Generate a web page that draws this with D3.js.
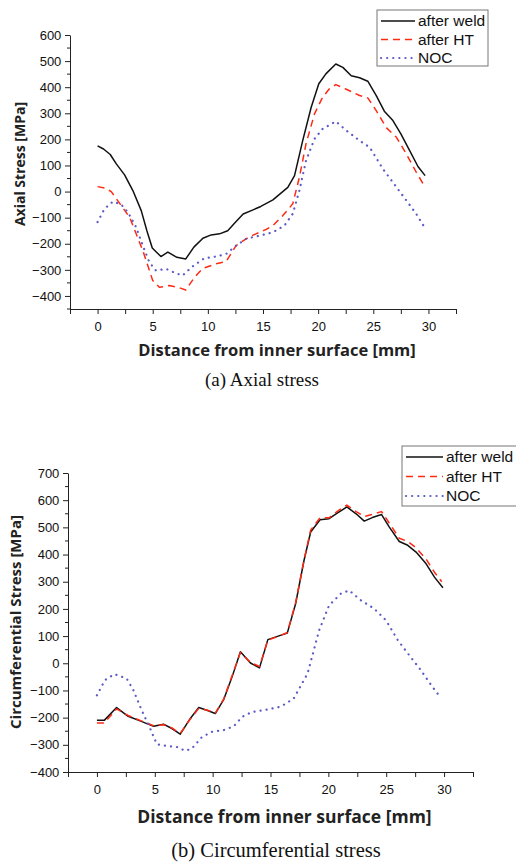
<!DOCTYPE html>
<html>
<head>
<meta charset="utf-8">
<script src="https://cdn.jsdelivr.net/npm/d3@7"></script>
<style>
  body { margin: 0; background: #fff; }
  svg { display: block; }
</style>
</head>
<body>
<svg id="chart" width="516" height="864"></svg>
<script>
// ---- data ----
const seriesNames = ["after weld", "after HT", "NOC"];

// (a) axial stress
const axialWeldX = [0, 0.54, 1.15, 1.7, 2.45, 3.2, 3.96, 4.47, 4.96, 5.74, 6.37, 7.19, 8.0, 8.73, 9.55, 10.3, 11.06, 11.8, 12.5, 13.2, 14.1, 14.8, 15.9, 17.25, 17.86, 18.6, 19.37, 20.06, 20.7, 21.6, 22.24, 23.0, 23.76, 24.5, 25.27, 26.0, 26.78, 27.5, 28.3, 29.05, 29.7];
const axialWeldY = [175, 163, 142, 106, 64, 4, -73, -150, -216, -249, -232, -252, -258, -213, -179, -166, -162, -150, -118, -86, -70, -57, -32, 16, 61, 195, 323, 413, 451, 489, 476, 444, 436, 423, 368, 308, 272, 221, 157, 96, 61];

const axialHtX = [0, 0.63, 1.24, 2.0, 2.9, 3.5, 4.1, 4.56, 5.0, 5.6, 6.5, 7.3, 8.0, 8.8, 9.55, 10.75, 11.66, 12.56, 13.47, 14.2, 15.3, 15.9, 16.8, 17.7, 18.3, 18.9, 19.67, 20.4, 21.0, 21.6, 22.5, 23.76, 24.5, 25.27, 26.2, 27.1, 28.0, 28.9, 29.7];
const axialHtY = [19, 14, 0, -45, -98, -162, -226, -284, -341, -367, -360, -367, -377, -328, -294, -277, -268, -207, -181, -165, -145, -130, -92, -47, 55, 183, 298, 361, 393, 410, 393, 368, 359, 310, 244, 208, 144, 74, 17];

const axialNocX = [0, 0.63, 1.4, 2.15, 2.75, 3.5, 4.1, 4.7, 5.3, 6.2, 7.1, 7.7, 8.6, 9.7, 10.75, 11.66, 12.56, 13.47, 14.4, 15.9, 16.95, 17.7, 18.3, 18.9, 19.67, 20.4, 21.6, 22.5, 23.76, 24.67, 25.87, 27.1, 28.0, 28.9, 29.65];
const axialNocY = [-117, -66, -38, -50, -79, -137, -207, -271, -303, -296, -313, -322, -287, -255, -249, -239, -207, -181, -172, -156, -130, -85, 4, 119, 202, 240, 269, 236, 195, 170, 87, 17, -34, -86, -137];

// (b) circumferential stress
const circWeldX = [0, 0.63, 1.7, 2.7, 3.73, 4.9, 5.75, 6.48, 7.2, 8.07, 8.8, 9.5, 10.23, 10.95, 11.68, 12.4, 13.27, 14.05, 14.77, 15.6, 16.45, 17.17, 17.9, 18.47, 19.28, 20.06, 20.8, 21.6, 22.4, 23.1, 23.8, 24.6, 25.27, 26.13, 26.86, 27.58, 28.45, 29.17, 29.9];
const circWeldY = [-210, -210, -163, -195, -212, -232, -224, -240, -261, -203, -163, -173, -185, -134, -50, 42, 1, -17, 87, 99, 111, 219, 379, 483, 528, 532, 553, 575, 550, 523, 536, 547, 501, 448, 434, 409, 366, 317, 278];

const circHtX = [0, 0.63, 1.7, 2.7, 3.73, 4.9, 5.75, 6.48, 7.2, 8.07, 8.8, 9.5, 10.23, 10.95, 11.68, 12.4, 13.27, 14.05, 14.77, 15.6, 16.45, 17.17, 17.9, 18.47, 19.28, 20.06, 20.8, 21.6, 22.4, 23.1, 23.8, 24.6, 25.27, 26.13, 26.86, 27.58, 28.45, 29.17, 29.8];
const circHtY = [-220, -220, -168, -192, -210, -230, -226, -238, -258, -205, -166, -172, -183, -132, -46, 40, 3, -12, 85, 98, 113, 222, 380, 490, 535, 535, 560, 582, 558, 540, 548, 558, 515, 460, 448, 425, 383, 335, 300];

const circNocX = [0, 0.69, 1.5, 2.57, 3.15, 3.87, 4.6, 5.18, 6.18, 6.9, 7.63, 8.2, 9.08, 9.95, 10.95, 11.82, 12.55, 13.4, 14.5, 15.87, 17.0, 18.2, 19.2, 20.06, 21.08, 21.8, 22.8, 23.96, 24.98, 26.0, 27.0, 28.0, 29.0, 29.66];
const circNocY = [-118, -62, -40, -56, -99, -173, -240, -298, -305, -308, -322, -314, -271, -252, -246, -232, -197, -179, -172, -160, -130, -38, 121, 213, 256, 268, 232, 201, 158, 85, 29, -26, -87, -124];

const xDomain = [-2.5, 32.5];
const xMajor = [0, 5, 10, 15, 20, 25, 30];

// ---- drawing ----
const styles = [
    { color: "#111", dash: null, width: 1.5, cap: "butt" },
    { color: "#ff2a14", dash: "7,5", width: 1.5, cap: "butt" },
    { color: "#5a5ac8", dash: "0.1,6", width: 2.2, cap: "round" }
];

const svg = d3.select("#chart");

function drawPanel(p) {
    const x = d3.scaleLinear().domain(xDomain).range([p.left, p.right]);
    const y = d3.scaleLinear().domain(p.yDomain).range([p.bottom, p.top]);
    const g = svg.append("g");

    // x axis: ticks every 2.5, labels every 5
    const xTicks = d3.range(xDomain[0], xDomain[1] + 0.01, 2.5);
    const xAxis = d3.axisBottom(x).tickValues(xTicks).tickSize(5).tickSizeOuter(0)
        .tickFormat(d => xMajor.includes(d) ? d : "");
    const gx = g.append("g").attr("transform", `translate(0,${p.bottom})`).call(xAxis);

    // y axis: major every 100 (labelled), minor every 50
    const yMajor = d3.range(p.yDomain[0] % 100 === 0 ? p.yDomain[0] : p.yDomain[0] + 50, p.yDomain[1] + 1, 100);
    const yAxis = d3.axisLeft(y).tickValues(yMajor).tickSize(5).tickSizeOuter(0).tickFormat(d3.format("d"));
    const gy = g.append("g").attr("transform", `translate(${p.left},0)`).call(yAxis);
    const yMinor = d3.range(p.yDomain[0], p.yDomain[1] + 1, 50).filter(v => !yMajor.includes(v));
    gy.selectAll("line.minor").data(yMinor).enter().append("line")
        .attr("class", "minor")
        .attr("x1", -3).attr("x2", 0)
        .attr("y1", d => y(d)).attr("y2", d => y(d));

    [gx, gy].forEach(a => {
        a.selectAll(".domain, line").attr("stroke", "#222").attr("stroke-width", 1);
        a.selectAll("text").attr("fill", "#111")
            .attr("font-family", "Liberation Sans, Arial, sans-serif")
            .attr("font-size", 13);
    });
    gx.selectAll("text").attr("dy", "1.05em");
    gy.selectAll("text").attr("dx", "-0.05em");

    // series
    const line = d3.line().x(d => x(d[0])).y(d => y(d[1]));
    p.series.forEach((s, i) => {
        const pts = s.x.map((v, k) => [v, s.y[k]]);
        g.append("path").datum(pts)
            .attr("d", line)
            .attr("fill", "none")
            .attr("stroke", styles[i].color)
            .attr("stroke-width", styles[i].width)
            .attr("stroke-dasharray", styles[i].dash)
            .attr("stroke-linecap", styles[i].cap)
            .attr("stroke-linejoin", "round");
    });

    // axis titles and caption
    g.append("text")
        .attr("x", (p.left + p.right) / 2 + 14).attr("y", p.xTitleY)
        .attr("text-anchor", "middle")
        .attr("font-family", "Open Sans, sans-serif").attr("font-weight", "bold")
        .attr("font-size", p.xTitleSize).attr("fill", "#222")
        .text("Distance from inner surface [mm]");
    g.append("text")
        .attr("transform", `translate(${p.yTitleX},${p.yTitleMid}) rotate(-90)`)
        .attr("text-anchor", "middle")
        .attr("font-family", "Open Sans, sans-serif").attr("font-weight", "bold")
        .attr("font-size", p.yTitleSize).attr("fill", "#222")
        .text(p.yTitle);
    g.append("text")
        .attr("x", p.captionX).attr("y", p.captionY)
        .attr("text-anchor", "middle")
        .attr("font-family", "Liberation Serif, Times New Roman, serif")
        .attr("font-size", p.captionSize).attr("fill", "#111")
        .text(p.caption);

    // legend
    const lg = g.append("g");
    lg.append("rect")
        .attr("x", p.legend.x).attr("y", p.legend.y)
        .attr("width", p.legend.w).attr("height", p.legend.h)
        .attr("fill", "#fff").attr("stroke", "#777").attr("stroke-width", 1);
    seriesNames.forEach((name, i) => {
        const cy = p.legend.y + p.legend.rowTop + i * p.legend.rowGap;
        lg.append("line")
            .attr("x1", p.legend.x + 4).attr("x2", p.legend.x + 4 + p.legend.sample)
            .attr("y1", cy).attr("y2", cy)
            .attr("stroke", styles[i].color)
            .attr("stroke-width", styles[i].width)
            .attr("stroke-dasharray", styles[i].dash)
            .attr("stroke-linecap", styles[i].cap);
        lg.append("text")
            .attr("x", p.legend.x + 7 + p.legend.sample).attr("y", cy)
            .attr("dy", "0.35em")
            .attr("font-family", "Liberation Sans, Arial, sans-serif")
            .attr("font-size", 15.5).attr("fill", "#111")
            .text(name);
    });
}

drawPanel({
    left: 70, right: 456, top: 35, bottom: 309,
    yDomain: [-450, 600],
    series: [
        { x: axialWeldX, y: axialWeldY },
        { x: axialHtX, y: axialHtY },
        { x: axialNocX, y: axialNocY }
    ],
    xTitleY: 356, xTitleSize: 16.5,
    yTitle: "Axial Stress [MPa]", yTitleX: 25, yTitleMid: 164, yTitleSize: 14,
    caption: "(a) Axial stress", captionX: 262, captionY: 386, captionSize: 19,
    legend: { x: 377, y: 10, w: 111, h: 56, rowTop: 11, rowGap: 18.5, sample: 34 }
});

drawPanel({
    left: 68, right: 473, top: 473, bottom: 772,
    yDomain: [-400, 700],
    series: [
        { x: circWeldX, y: circWeldY },
        { x: circHtX, y: circHtY },
        { x: circNocX, y: circNocY }
    ],
    xTitleY: 823, xTitleSize: 17.5,
    yTitle: "Circumferential Stress [MPa]", yTitleX: 21, yTitleMid: 622, yTitleSize: 15,
    caption: "(b) Circumferential stress", captionX: 276, captionY: 857, captionSize: 20.5,
    legend: { x: 402, y: 446, w: 130, h: 60, rowTop: 11, rowGap: 19.5, sample: 37 }
});
</script>
</body>
</html>
